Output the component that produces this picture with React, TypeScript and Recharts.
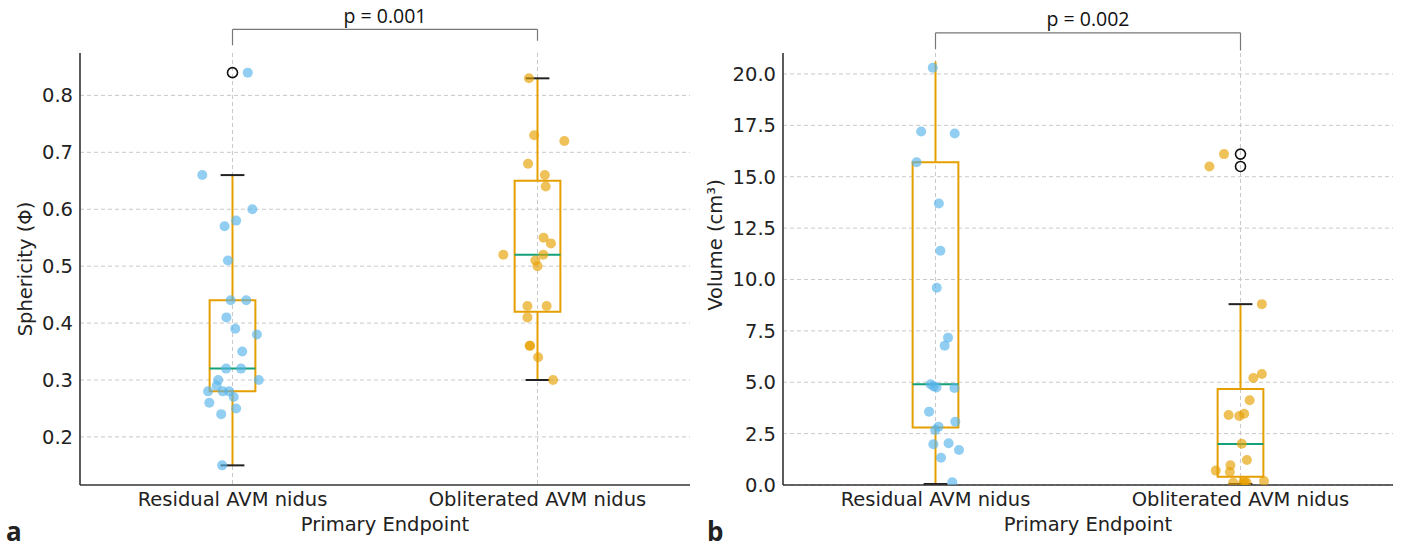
import React from 'react'
import {
  ComposedChart,
  Scatter,
  XAxis,
  YAxis,
  CartesianGrid,
  ReferenceArea,
  ReferenceLine,
  Label,
} from 'recharts'

const categories = ['Residual AVM nidus', 'Obliterated AVM nidus']

// sphericity (panel a)
const residualSph = [0.84, 0.66, 0.6, 0.58, 0.57, 0.51, 0.44, 0.44, 0.41, 0.39, 0.38, 0.35, 0.32, 0.32, 0.3, 0.3, 0.29, 0.28, 0.28, 0.28, 0.27, 0.26, 0.25, 0.24, 0.15]
const residualSphJitter = [0.05, -0.099, 0.065, 0.012, -0.026, -0.015, -0.006, 0.045, -0.02, 0.009, 0.08, 0.032, -0.021, 0.028, -0.047, 0.086, -0.052, -0.08, -0.032, -0.011, 0.004, -0.076, 0.012, -0.037, -0.034]
const obliteratedSph = [0.83, 0.73, 0.72, 0.68, 0.66, 0.64, 0.55, 0.54, 0.52, 0.52, 0.51, 0.5, 0.43, 0.43, 0.41, 0.36, 0.36, 0.34, 0.3]
const obliteratedSphJitter = [-0.028, -0.011, 0.088, -0.031, 0.024, 0.027, 0.02, 0.044, -0.112, 0.019, -0.007, 0, -0.033, 0.03, -0.033, -0.026, -0.024, 0.002, 0.051]
const sphQ1 = [0.28, 0.42]
const sphMedian = [0.32, 0.52]
const sphQ3 = [0.44, 0.65]
const sphWhiskerLow = [0.15, 0.3]
const sphWhiskerHigh = [0.66, 0.83]
const sphCapHigh = [true, true]
const sphFlierGroup = [1]
const sphFlierValue = [0.84]
const sphTicks = [0.2, 0.3, 0.4, 0.5, 0.6, 0.7, 0.8]

// volume (panel b)
const residualVol = [20.3, 17.2, 17.1, 15.7, 13.7, 11.4, 9.6, 7.17, 6.78, 4.9, 4.8, 4.75, 4.72, 3.57, 3.08, 2.84, 2.68, 1.98, 2.03, 1.7, 1.33, 0.13]
const residualVolJitter = [-0.009, -0.047, 0.063, -0.062, 0.011, 0.016, 0.004, 0.041, 0.03, -0.016, -0.006, 0.003, 0.062, -0.021, 0.065, 0.01, -0.001, -0.007, 0.043, 0.077, 0.018, 0.055]
const obliteratedVol = [16.1, 15.5, 8.8, 5.4, 5.21, 4.12, 3.41, 3.36, 3.47, 2.01, 1.22, 0.96, 0.7, 0.63, 0.11, 0.16, 0.19, 0.08, 0.12]
const obliteratedVolJitter = [-0.054, -0.102, 0.07, 0.07, 0.042, 0.03, -0.039, -0.004, 0.012, 0.004, 0.021, -0.033, -0.081, -0.035, -0.024, 0.014, 0.077, 0.008, 0.02]
const volQ1 = [2.8, 0.4]
const volMedian = [4.9, 2.0]
const volQ3 = [15.7, 4.67]
const volWhiskerLow = [0.05, 0.05]
const volWhiskerHigh = [20.6, 8.8]
const volCapHigh = [false, true]
const volFlierGroup = [2, 2]
const volFlierValue = [16.1, 15.5]
const volTicks = [0, 2.5, 5, 7.5, 10, 12.5, 15, 17.5, 20]

const BLUE = '#56B4E9'
const ORANGE = '#E69F00'
const GREEN = '#14a078'
const AXIS = '#333'
const FONT = '"DejaVu Sans", sans-serif'
const FS = 19.5

const toPoints = (values: number[], jitter: number[], group: number) =>
  values.map((v, i) => ({ x: group + jitter[i], y: v }))

const dot = (color: string) => (p: any) => (
  <circle cx={p.cx} cy={p.cy} r={5} fill={color} fillOpacity={0.65} />
)
const flierDot = (p: any) => (
  <circle cx={p.cx} cy={p.cy} r={5} fill="none" stroke="#111" strokeWidth={1.6} />
)

const BOX_HALF = 0.075
const CAP_HALF = 0.039

function renderBox(i: number, q1: number[], med: number[], q3: number[], lo: number[], hi: number[], capHi: boolean[]) {
  const g = i + 1
  const items = [
    <ReferenceLine key={`wl${i}`} segment={[{ x: g, y: q1[i] }, { x: g, y: lo[i] }]} stroke={ORANGE} strokeWidth={2} ifOverflow="visible" />,
    <ReferenceLine key={`wh${i}`} segment={[{ x: g, y: q3[i] }, { x: g, y: hi[i] }]} stroke={ORANGE} strokeWidth={2} ifOverflow="visible" />,
    <ReferenceArea key={`b${i}`} x1={g - BOX_HALF} x2={g + BOX_HALF} y1={q1[i]} y2={q3[i]} fill="#fff" fillOpacity={0} stroke={ORANGE} strokeWidth={2} ifOverflow="visible" />,
    <ReferenceLine key={`m${i}`} segment={[{ x: g - BOX_HALF, y: med[i] }, { x: g + BOX_HALF, y: med[i] }]} stroke={GREEN} strokeWidth={2} ifOverflow="visible" />,
    <ReferenceLine key={`cl${i}`} segment={[{ x: g - CAP_HALF, y: lo[i] }, { x: g + CAP_HALF, y: lo[i] }]} stroke="#222" strokeWidth={2} ifOverflow="visible" />,
  ]
  if (capHi[i]) {
    items.push(
      <ReferenceLine key={`ch${i}`} segment={[{ x: g - CAP_HALF, y: hi[i] }, { x: g + CAP_HALF, y: hi[i] }]} stroke="#222" strokeWidth={2} ifOverflow="visible" />,
    )
  }
  return items
}

const yLabel = (text: string, dxFromLeft: number, shiftY: number) => (props: any) => {
  const vb = props.viewBox
  const cx = vb.x + dxFromLeft
  const cy = vb.y + vb.height / 2 + shiftY
  return (
    <text x={cx} y={cy} transform={`rotate(-90 ${cx} ${cy})`} textAnchor="middle" dominantBaseline="central" fill="#222" fontSize={FS} fontFamily={FONT}>
      {text}
    </text>
  )
}

interface PanelProps {
  width: number
  yAxisWidth: number
  rightMargin: number
  domain: [number, number]
  ticks: number[]
  yTitle: string
  yTitleX: number
  yTitleShift: number
  groupA: { x: number; y: number }[]
  groupB: { x: number; y: number }[]
  fliers: { x: number; y: number }[]
  boxes: React.ReactNode[]
  bracket: { top: number; left: number; right: number; text: string; offset: number }
}

function Panel(p: PanelProps) {
  return (
    <ComposedChart width={p.width} height={547} margin={{ top: 53, right: p.rightMargin, bottom: 12, left: 0 }}>
      <CartesianGrid stroke="#c9c9c9" strokeDasharray="4 3" syncWithTicks />
      <XAxis
        type="number"
        dataKey="x"
        domain={[0.5, 2.5]}
        ticks={[1, 2]}
        allowDataOverflow
        tickFormatter={(v: number) => categories[Math.round(v) - 1]}
        height={50}
        tickLine={false}
        tickSize={6}
        tickMargin={1}
        axisLine={{ stroke: AXIS, strokeWidth: 1.6 }}
        tick={{ fill: '#222', fontSize: FS, fontFamily: FONT }}
        label={{ value: 'Primary Endpoint', position: 'insideBottom', offset: 4, fill: '#222', fontSize: FS, fontFamily: FONT }}
      />
      <YAxis
        type="number"
        dataKey="y"
        domain={p.domain}
        ticks={p.ticks}
        allowDataOverflow
        width={p.yAxisWidth}
        tickLine={false}
        tickSize={5}
        tickMargin={2}
        tickFormatter={(v: number) => v.toFixed(1)}
        axisLine={{ stroke: AXIS, strokeWidth: 1.6 }}
        tick={{ fill: '#222', fontSize: FS, fontFamily: FONT }}
      >
        <Label content={yLabel(p.yTitle, p.yTitleX, p.yTitleShift)} />
      </YAxis>
      {p.boxes}
      <ReferenceLine segment={[{ x: 1, y: p.bracket.left }, { x: 1, y: p.bracket.top }]} stroke="#777" strokeWidth={1.2} ifOverflow="visible" />
      <ReferenceLine
        segment={[{ x: 1, y: p.bracket.top }, { x: 2, y: p.bracket.top }]}
        stroke="#777"
        strokeWidth={1.2}
        ifOverflow="visible"
        label={{ value: p.bracket.text, position: 'top', offset: p.bracket.offset, fill: '#111', fontSize: FS, fontFamily: '"Open Sans", sans-serif' }}
      />
      <ReferenceLine segment={[{ x: 2, y: p.bracket.top }, { x: 2, y: p.bracket.right }]} stroke="#777" strokeWidth={1.2} ifOverflow="visible" />
      <Scatter data={p.groupA} shape={dot(BLUE)} isAnimationActive={false} />
      <Scatter data={p.groupB} shape={dot(ORANGE)} isAnimationActive={false} />
      <Scatter data={p.fliers} shape={flierDot} isAnimationActive={false} />
    </ComposedChart>
  )
}

export default function App() {
  const sphBoxes = [0, 1].flatMap((i) => renderBox(i, sphQ1, sphMedian, sphQ3, sphWhiskerLow, sphWhiskerHigh, sphCapHigh))
  const volBoxes = [0, 1].flatMap((i) => renderBox(i, volQ1, volMedian, volQ3, volWhiskerLow, volWhiskerHigh, volCapHigh))
  const letter: React.CSSProperties = {
    position: 'absolute',
    top: 516,
    fontFamily: '"Open Sans", sans-serif',
    fontWeight: 700,
    fontSize: 26,
    color: '#222',
    lineHeight: '30px',
  }
  return (
    <div style={{ position: 'absolute', left: 0, top: 0, width: 1402, height: 547, background: '#fff' }}>
      <div style={{ position: 'absolute', left: 0, top: 0 }}>
        <Panel
          width={700}
          yAxisWidth={80}
          rightMargin={10}
          domain={[0.1155, 0.8745]}
          ticks={sphTicks}
          yTitle="Sphericity (Φ)"
          yTitleX={25}
          yTitleShift={0}
          groupA={toPoints(residualSph, residualSphJitter, 1)}
          groupB={toPoints(obliteratedSph, obliteratedSphJitter, 2)}
          fliers={sphFlierValue.map((v, i) => ({ x: sphFlierGroup[i], y: v }))}
          boxes={sphBoxes}
          bracket={{ top: 0.916, left: 0.888, right: 0.896, text: 'p = 0.001', offset: 6 }}
        />
      </div>
      <div style={{ position: 'absolute', left: 700, top: 0 }}>
        <Panel
          width={702}
          yAxisWidth={83}
          rightMargin={9}
          domain={[0, 21.02]}
          ticks={volTicks}
          yTitle="Volume (cm³)"
          yTitleX={15}
          yTitleShift={-24}
          groupA={toPoints(residualVol, residualVolJitter, 1)}
          groupB={toPoints(obliteratedVol, obliteratedVolJitter, 2)}
          fliers={volFlierValue.map((v, i) => ({ x: volFlierGroup[i], y: v }))}
          boxes={volBoxes}
          bracket={{ top: 22.0, left: 21.2, right: 21.14, text: 'p = 0.002', offset: 7 }}
        />
      </div>
      <div style={{ ...letter, left: 6 }}>a</div>
      <div style={{ ...letter, left: 707 }}>b</div>
    </div>
  )
}
